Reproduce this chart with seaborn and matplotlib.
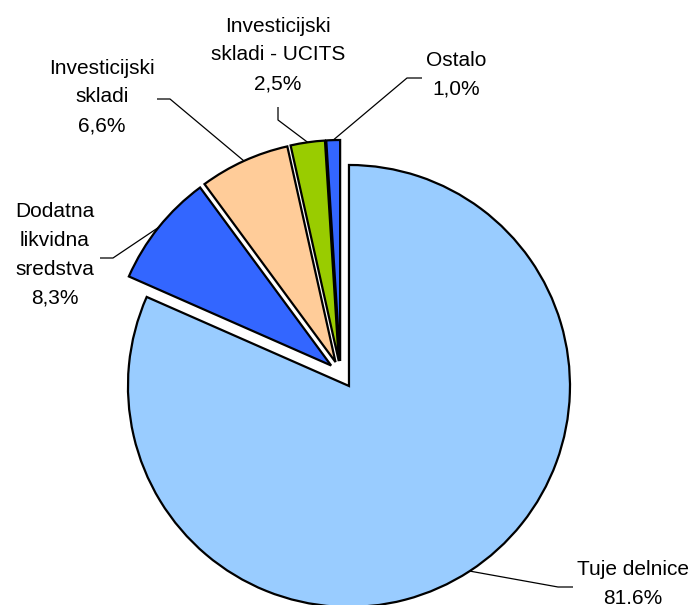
import numpy as np
import matplotlib
matplotlib.use('Agg')
import matplotlib.pyplot as plt
import seaborn as sns

# data
categories = ['Tuje delnice', 'Dodatna\nlikvidna\nsredstva', 'Investicijski\nskladi',
              'Investicijski\nskladi - UCITS', 'Ostalo']
shares = [81.6, 8.3, 6.6, 2.5, 1.0]
share_labels = ['81.6%', '8,3%', '6,6%', '2,5%', '1,0%']

colors = ['#99CCFF', '#3366FF', '#FFCC99', '#99CC00', '#3366FF']

sns.set_theme(style='white')
plt.rcParams['font.family'] = ['Liberation Sans', 'DejaVu Sans']

W, H = 692, 605
fig = plt.figure(figsize=(W / 100, H / 100), dpi=100)
ax = fig.add_axes([0, 0, 1, 1])

radius = 221
center = (340.5, H - 373)
explode = [15.5, 12, 12, 12, 12]

wedges, _ = ax.pie(shares, colors=colors, startangle=90, counterclock=False,
                   radius=radius, center=center, explode=explode,
                   wedgeprops=dict(edgecolor='black', linewidth=1.6))
ax.set_xlim(0, W)
ax.set_ylim(0, H)
ax.set_aspect('auto')
ax.axis('off')

# label layout in pixel coords: text centre, elbow, end of leader
layout = [
    ((633, 584), (558, 587), (573, 587)),
    ((55, 255), (113, 258), (100, 258)),
    ((102, 97), (170, 99), (157, 99)),
    ((278, 55), (278, 120), (278, 107)),
    ((456, 75), (407, 78), (422, 78)),
]

for w, cat, lab, (txt, elbow, end) in zip(wedges, categories, share_labels, layout):
    mid = np.deg2rad((w.theta1 + w.theta2) / 2)
    ax_x = w.center[0] + w.r * np.cos(mid)
    ax_y = w.center[1] + w.r * np.sin(mid)
    ax.plot([ax_x, elbow[0], end[0]], [ax_y, H - elbow[1], H - end[1]],
            color='black', linewidth=0.9, solid_capstyle='butt')
    ax.text(txt[0], H - txt[1], cat + '\n' + lab, ha='center', va='center',
            fontsize=15, linespacing=1.65, color='black')

plt.savefig('out.png', dpi=100)
